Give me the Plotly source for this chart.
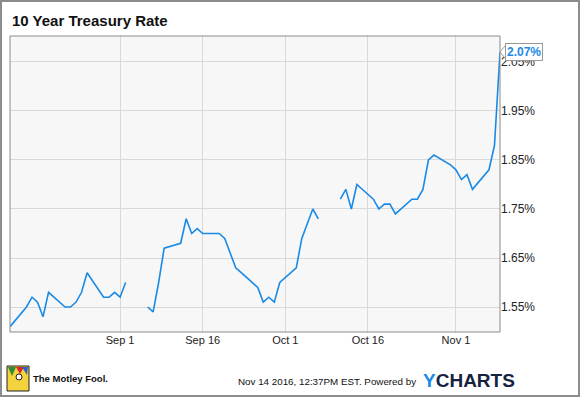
import plotly.graph_objects as go

# ---- data ----
dates = [
    "2016-08-12", "2016-08-15", "2016-08-16", "2016-08-17", "2016-08-18", "2016-08-19",
    "2016-08-22", "2016-08-23", "2016-08-24", "2016-08-25", "2016-08-26",
    "2016-08-29", "2016-08-30", "2016-08-31", "2016-09-01", "2016-09-02",
    "2016-09-05", "2016-09-06", "2016-09-07", "2016-09-08", "2016-09-09",
    "2016-09-12", "2016-09-13", "2016-09-14", "2016-09-15", "2016-09-16",
    "2016-09-19", "2016-09-20", "2016-09-21", "2016-09-22", "2016-09-23",
    "2016-09-26", "2016-09-27", "2016-09-28", "2016-09-29", "2016-09-30",
    "2016-10-03", "2016-10-04", "2016-10-05", "2016-10-06", "2016-10-07",
    "2016-10-10", "2016-10-11", "2016-10-12", "2016-10-13", "2016-10-14",
    "2016-10-17", "2016-10-18", "2016-10-19", "2016-10-20", "2016-10-21",
    "2016-10-24", "2016-10-25", "2016-10-26", "2016-10-27", "2016-10-28",
    "2016-10-31", "2016-11-01", "2016-11-02", "2016-11-03", "2016-11-04",
    "2016-11-07", "2016-11-08", "2016-11-09",
]
rates = [
    1.51, 1.55, 1.57, 1.56, 1.53, 1.58,
    1.55, 1.55, 1.56, 1.58, 1.62,
    1.57, 1.57, 1.58, 1.57, 1.60,
    None, 1.55, 1.54, 1.60, 1.67,
    1.68, 1.73, 1.70, 1.71, 1.70,
    1.70, 1.69, 1.66, 1.63, 1.62,
    1.59, 1.56, 1.57, 1.56, 1.60,
    1.63, 1.69, 1.72, 1.75, 1.73,
    None, 1.77, 1.79, 1.75, 1.80,
    1.77, 1.75, 1.76, 1.76, 1.74,
    1.77, 1.77, 1.79, 1.85, 1.86,
    1.84, 1.83, 1.81, 1.82, 1.79,
    1.83, 1.88, 2.07,
]
y_ticks = [1.55, 1.65, 1.75, 1.85, 1.95, 2.05]
y_tick_labels = ["1.55%", "1.65%", "1.75%", "1.85%", "1.95%", "2.05%"]
x_ticks = ["2016-09-01", "2016-09-16", "2016-10-01", "2016-10-16", "2016-11-01"]
x_tick_labels = ["Sep 1", "Sep 16", "Oct 1", "Oct 16", "Nov 1"]

W, H = 580, 397
ML, MR, MT, MB = 10, 80, 36, 65
PW, PH = W - ML - MR, H - MT - MB

def px(x):
    return (x - ML) / PW

def py(y):
    return (H - MB - y) / PH

LINE = "#1a8ae6"
FONT = "Liberation Sans, Arial, sans-serif"

fig = go.Figure()
fig.add_trace(go.Scatter(
    x=dates, y=rates, mode="lines",
    line=dict(color=LINE, width=1.6),
    connectgaps=False, hoverinfo="x+y",
))

shapes = [
    # outer frame
    dict(type="rect", xref="paper", yref="paper",
         x0=px(1), x1=px(579), y0=py(396), y1=py(1),
         line=dict(color="#8c8c8c", width=2), fillcolor="rgba(0,0,0,0)", layer="below"),
    # plot border
    dict(type="rect", xref="paper", yref="paper", x0=0, x1=1, y0=0, y1=1,
         line=dict(color="#8a8a8a", width=1), fillcolor="rgba(0,0,0,0)"),
    # pointer of last-value label
    dict(type="path", xref="paper", yref="paper",
         path=f"M {px(505)} {py(46)} L {px(500)} {py(52)} L {px(505)} {py(58)}",
         line=dict(color="#999999", width=1), fillcolor="white"),
    # Motley Fool logo (simplified)
    dict(type="rect", xref="paper", yref="paper",
         x0=px(7), x1=px(29), y0=py(391), y1=py(366),
         line=dict(color="#222222", width=1), fillcolor="#f4d23c"),
    dict(type="path", xref="paper", yref="paper",
         path=f"M {px(8)} {py(367)} L {px(16)} {py(367)} L {px(12)} {py(376)} Z",
         line=dict(width=0), fillcolor="#2e8b3a"),
    dict(type="path", xref="paper", yref="paper",
         path=f"M {px(16)} {py(367)} L {px(24)} {py(367)} L {px(20)} {py(374)} Z",
         line=dict(width=0), fillcolor="#d7262b"),
    dict(type="path", xref="paper", yref="paper",
         path=f"M {px(22)} {py(367)} L {px(28)} {py(367)} L {px(27)} {py(375)} Z",
         line=dict(width=0), fillcolor="#2a62c4"),
    dict(type="circle", xref="paper", yref="paper",
         x0=px(16), x1=px(22), y0=py(380), y1=py(374),
         line=dict(color="#222222", width=1), fillcolor="white"),
]

last_val = rates[-1]
annotations = [
    dict(text="<b>10 Year Treasury Rate</b>", xref="paper", yref="paper",
         x=px(10), y=py(20), xanchor="left", yanchor="middle", showarrow=False,
         font=dict(family=FONT, size=15, color="#111111")),
    dict(text=f"<b>{last_val:.2f}%</b>", xref="paper", yref="paper",
         x=px(505), y=py(52), xanchor="left", yanchor="middle", showarrow=False,
         bgcolor="white", bordercolor="#999999", borderwidth=1, borderpad=1,
         font=dict(family=FONT, size=12, color=LINE)),
    dict(text="<b>The Motley Fool.</b>", xref="paper", yref="paper",
         x=px(31), y=py(378), xanchor="left", yanchor="middle", showarrow=False,
         font=dict(family=FONT, size=9.5, color="#111111")),
    dict(text="Nov 14 2016, 12:37PM EST. Powered by", xref="paper", yref="paper",
         x=px(418), y=py(381), xanchor="right", yanchor="middle", showarrow=False,
         font=dict(family=FONT, size=9.8, color="#111111")),
    dict(text="<b><span style='color:#1a8ae6'>Y</span>CHARTS</b>", xref="paper", yref="paper",
         x=px(421), y=py(380), xanchor="left", yanchor="middle", showarrow=False,
         font=dict(family=FONT, size=19, color="#152341")),
]

fig.update_layout(
    width=W, height=H,
    margin=dict(l=ML, r=MR, t=MT, b=MB),
    paper_bgcolor="white", plot_bgcolor="#f7f7f7",
    showlegend=False,
    shapes=shapes, annotations=annotations,
    font=dict(family=FONT, color="#333333"),
    xaxis=dict(
        type="date", range=["2016-08-12", "2016-11-09"],
        tickvals=x_ticks, ticktext=x_tick_labels,
        showgrid=True, gridcolor="#d9d9d9", gridwidth=1,
        zeroline=False, ticks="", tickfont=dict(size=11, color="#222222"),
        showline=False,
    ),
    yaxis=dict(
        side="right", range=[1.499, 2.103],
        tickvals=y_ticks, ticktext=y_tick_labels,
        showgrid=True, gridcolor="#d9d9d9", gridwidth=1,
        zeroline=False, ticks="", tickfont=dict(size=12, color="#222222"),
        showline=False,
    ),
)

fig.write_html(
    "out.html",
    config={"displayModeBar": False},
    post_script="document.body.style.margin='0';document.body.style.padding='0';",
)
